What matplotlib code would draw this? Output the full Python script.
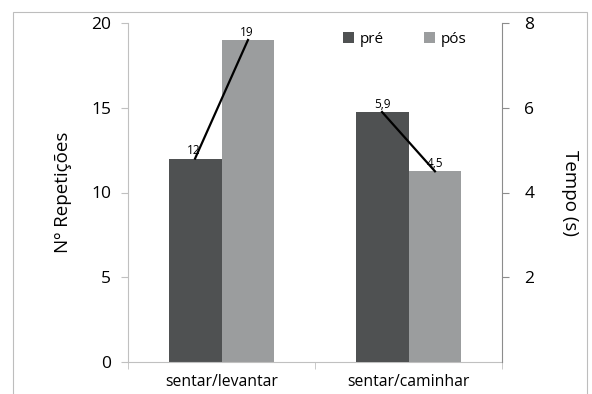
import matplotlib.pyplot as plt
from matplotlib.patches import Rectangle
import numpy as np

# data
categories = ['sentar/levantar', 'sentar/caminhar']
series = ['pré', 'pós']
repeticoes = [12, 19]        # sentar/levantar, left axis
tempo = [5.9, 4.5]           # sentar/caminhar, right axis
rep_labels = ['12', '19']
tempo_labels = ['5,9', '4,5']

dark = '#4f5152'
light = '#9b9d9e'
spine_col = '#c0c0c0'

plt.rcParams['font.family'] = ['Open Sans', 'DejaVu Sans']

fig = plt.figure(figsize=(5.92, 3.94), dpi=100)
ax = fig.add_axes([128 / 592, 1 - 362 / 394, (502 - 128) / 592, (362 - 23) / 394])
ax2 = ax.twinx()

# outer chart frame
fig.patches.append(Rectangle((13 / 592, -0.05), (587 - 13) / 592, 1 - 12 / 394 + 0.05,
                             transform=fig.transFigure, fill=False,
                             edgecolor='#bdbdbd', linewidth=0.8))

w = 0.283
x = np.arange(len(categories))

# first category on left axis
ax.bar(x[0] - w / 2, repeticoes[0], w, color=dark, label=series[0])
ax.bar(x[0] + w / 2, repeticoes[1], w, color=light, label=series[1])
ax.plot([x[0] - w / 2, x[0] + w / 2], repeticoes, color='black', lw=1.6, zorder=5)
for xi, v, t in zip([x[0] - w / 2, x[0] + w / 2], repeticoes, rep_labels):
    ax.annotate(t, (xi, v), xytext=(-1, 1), textcoords='offset points',
                ha='center', va='bottom', fontsize=8.5)

# second category on right axis
ax2.bar(x[1] - w / 2, tempo[0], w, color=dark)
ax2.bar(x[1] + w / 2, tempo[1], w, color=light)
ax2.plot([x[1] - w / 2, x[1] + w / 2], tempo, color='black', lw=1.6, zorder=5)
for xi, v, t in zip([x[1] - w / 2, x[1] + w / 2], tempo, tempo_labels):
    ax2.annotate(t, (xi, v), xytext=(0, 1), textcoords='offset points',
                 ha='center', va='bottom', fontsize=8.5)

ax.set_xlim(-0.5, 1.5)
ax.set_ylim(0, 20)
ax.set_yticks([0, 5, 10, 15, 20])
ax2.set_ylim(0, 8)
ax2.set_yticks([2, 4, 6, 8])

ax.set_xticks(x)
ax.set_xticklabels(categories, fontsize=11.3)
ax.set_xticks([-0.5, 0.5, 1.5], minor=True)
ax.tick_params(axis='x', which='major', length=0, pad=9)
ax.tick_params(axis='x', which='minor', length=5, color=spine_col, direction='out')
ax.tick_params(axis='y', length=5, color=spine_col, pad=7, labelsize=12.5)
ax2.tick_params(axis='y', length=5, color='#8c8c8c', pad=11, labelsize=12.5)

for s in ['top', 'right']:
    ax.spines[s].set_visible(False)
ax.spines['left'].set_color(spine_col)
ax.spines['bottom'].set_color(spine_col)
for s in ['top', 'left', 'bottom']:
    ax2.spines[s].set_visible(False)
ax2.spines['right'].set_color('#8c8c8c')

ax.set_ylabel('Nº Repetições', fontsize=13.5, labelpad=14)
ax2.set_ylabel('Tempo (s)', fontsize=13.5, rotation=-90, labelpad=32)

ax.legend(loc='upper center', bbox_to_anchor=(405 / 592, 1 - 18 / 394),
          bbox_transform=fig.transFigure, ncol=2, frameon=False, fontsize=11,
          handlelength=0.7, handleheight=0.7, handletextpad=0.4, columnspacing=2.6)

fig.savefig('out.png', dpi=100)
